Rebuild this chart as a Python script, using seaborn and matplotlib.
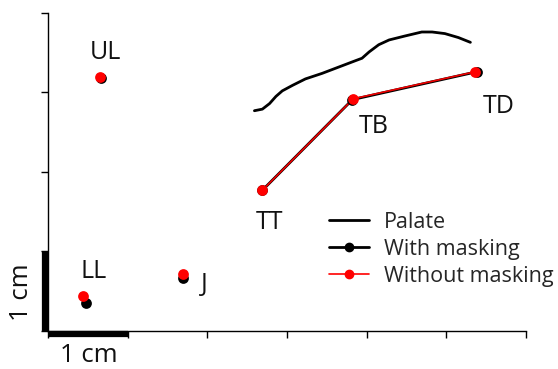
import matplotlib
matplotlib.use("Agg")
import matplotlib.pyplot as plt
import seaborn as sns
import pandas as pd
from matplotlib.lines import Line2D

sns.set_style("white")
plt.rcParams['font.family'] = ['Open Sans', 'DejaVu Sans']

# Palate contour (cm)
palate_x = [2.59, 2.69, 2.78, 2.86, 2.94, 3.07, 3.23, 3.44, 3.65, 3.86, 3.94, 4.03,
            4.15, 4.28, 4.48, 4.69, 4.82, 4.98, 5.15, 5.30]
palate_y = [2.77, 2.79, 2.86, 2.95, 3.02, 3.09, 3.17, 3.24, 3.32, 3.40, 3.43, 3.51,
            3.60, 3.66, 3.71, 3.76, 3.76, 3.74, 3.69, 3.63]

# Sensors
sensors = ["UL", "LL", "J", "TT", "TB", "TD"]
mask_x = [0.66, 0.475, 1.70, 2.69, 3.82, 5.38]
mask_y = [3.18, 0.35, 0.67, 1.77, 2.91, 3.26]
nomask_x = [0.65, 0.44, 1.70, 2.69, 3.83, 5.36]
nomask_y = [3.19, 0.44, 0.72, 1.77, 2.92, 3.26]

tongue = ["TT", "TB", "TD"]

label_x = [0.72, 0.57, 1.96, 2.78, 4.09, 5.65]
label_y = [3.50, 0.75, 0.58, 1.36, 2.57, 2.82]

df_mask = pd.DataFrame({"sensor": sensors, "x": mask_x, "y": mask_y})
df_nomask = pd.DataFrame({"sensor": sensors, "x": nomask_x, "y": nomask_y})
df_pal = pd.DataFrame({"x": palate_x, "y": palate_y})

fig = plt.figure(figsize=(5.58, 3.69), dpi=100)
ax = fig.add_axes([0.086, 0.103, 0.857, 0.862])

sns.lineplot(data=df_pal, x="x", y="y", sort=False, color="black", lw=2, ax=ax)
tm = df_mask[df_mask.sensor.isin(tongue)]
tn = df_nomask[df_nomask.sensor.isin(tongue)]
sns.lineplot(data=tm, x="x", y="y", sort=False, color="black", lw=2, ax=ax)
sns.lineplot(data=tn, x="x", y="y", sort=False, color="#ee0000", lw=1.2, ax=ax)
sns.scatterplot(data=df_mask, x="x", y="y", color="black", s=60, linewidth=0, ax=ax, zorder=4)
sns.scatterplot(data=df_nomask, x="x", y="y", color="#ff0000", s=60, linewidth=0, ax=ax, zorder=5)

for s, lx, ly in zip(sensors, label_x, label_y):
    ax.text(lx, ly, s, fontsize=18, ha="center", va="center", color="#111111")

ax.set_xlim(0, 6)
ax.set_ylim(0, 4)
ax.set_xticks(range(0, 7))
ax.set_yticks(range(0, 5))
ax.set_xticklabels([])
ax.set_yticklabels([])
ax.set_xlabel("")
ax.set_ylabel("")
ax.tick_params(direction="out", length=5, width=1, color="black", bottom=True, left=True)
for side in ["top", "right"]:
    ax.spines[side].set_visible(False)
for side in ["left", "bottom"]:
    ax.spines[side].set_color("black")
    ax.spines[side].set_linewidth(1)

# scale bars
ax.plot([0, 1], [-0.04, -0.04], color="black", lw=4.5, clip_on=False, solid_capstyle="butt")
ax.plot([-0.04, -0.04], [0, 1], color="black", lw=4.5, clip_on=False, solid_capstyle="butt")
fig.text(89/558, 1-355/369, "1 cm", fontsize=18.5, ha="center", va="center", color="#111111")
fig.text(21/558, 1-292/369, "1 cm", fontsize=18.5, ha="center", va="center", rotation=90,
         color="#111111")

handles = [
    Line2D([], [], color="black", lw=2),
    Line2D([], [], color="black", lw=2, marker="o", markersize=6),
    Line2D([], [], color="#ff0000", lw=1.2, marker="o", markersize=6),
]
ax.legend(handles, ["Palate", "With masking", "Without masking"], frameon=False,
          loc="upper left", bbox_to_anchor=(329/558, 1-212/369), bbox_transform=fig.transFigure,
          fontsize=15.5, handlelength=1.86, handletextpad=0.7, labelspacing=0.27, borderpad=0,
          borderaxespad=0)

fig.savefig("out.png", dpi=100)
